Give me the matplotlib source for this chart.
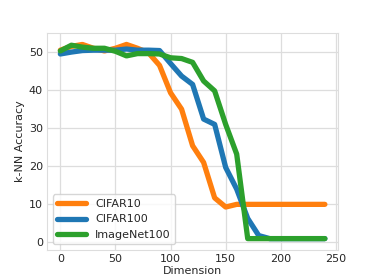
import matplotlib
matplotlib.use("Agg")
import matplotlib.pyplot as plt
import seaborn as sns

dims = [0, 10, 20, 30, 40, 50, 60, 70, 80, 90, 100, 110, 120, 130, 140, 150, 160,
        170, 180, 190, 200, 210, 220, 230, 240]

cifar10 = [50.5, 51.5, 52, 51, 50.3, 51, 52, 51, 49.8, 46.5, 39.3, 35, 25.4, 21, 11.7,
           9.3, 10, 10, 10, 10, 10, 10, 10, 10, 10]
cifar100 = [49.5, 50, 50.4, 50.5, 50.5, 50.5, 50.8, 50.5, 50.5, 50.4, 47, 43.7, 41.5,
            32.4, 31, 19.7, 14, 6.3, 1.8, 1, 1, 1, 1, 1, 1]
imagenet100 = [50.3, 51.8, 51.3, 51, 51, 50.2, 49, 49.6, 49.6, 49.5, 48.5, 48.3, 47.3,
               42.4, 39.8, 31, 23.2, 1, 1, 1, 1, 1, 1, 1, 1]

sns.set_style("whitegrid")
plt.rcParams['font.family'] = ['DejaVu Sans']

fig = plt.figure(figsize=(3.74, 2.8), dpi=100)
ax = fig.add_axes([0.126, 0.107, 0.778, 0.775])

ax.plot(dims, cifar10, color="#ff7f0e", lw=3.8, label="CIFAR10")
ax.plot(dims, cifar100, color="#1f77b4", lw=3.8, label="CIFAR100")
ax.plot(dims, imagenet100, color="#2ca02c", lw=3.8, label="ImageNet100")

ax.set_xlim(-12, 252)
ax.set_ylim(-2, 55)
ax.set_xticks([0, 50, 100, 150, 200, 250])
ax.set_yticks([0, 10, 20, 30, 40, 50])
ax.tick_params(labelsize=8, length=0, pad=3)
ax.set_xlabel("Dimension", fontsize=8, labelpad=1)
ax.set_ylabel("k-NN Accuracy", fontsize=8, labelpad=3)
for s in ax.spines.values():
    s.set_color("#dddddd")
ax.grid(color="#dddddd", lw=0.9)
ax.legend(loc="lower left", fontsize=8, frameon=True, handlelength=2.6)

fig.savefig("out.png", dpi=100)
